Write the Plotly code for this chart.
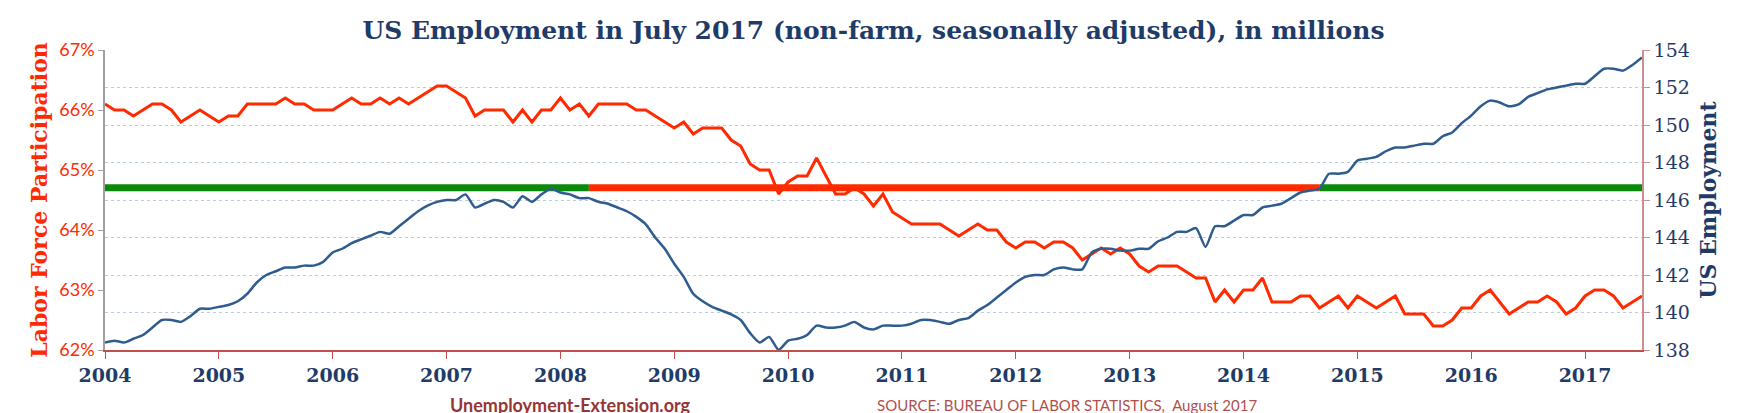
import plotly.graph_objects as go

years = list(range(2004, 2018))
lfpr = [
    66.1, 66.0, 66.0, 65.9, 66.0, 66.1, 66.1, 66.0, 65.8, 65.9, 66.0, 65.9,
    65.8, 65.9, 65.9, 66.1, 66.1, 66.1, 66.1, 66.2, 66.1, 66.1, 66.0, 66.0,
    66.0, 66.1, 66.2, 66.1, 66.1, 66.2, 66.1, 66.2, 66.1, 66.2, 66.3, 66.4,
    66.4, 66.3, 66.2, 65.9, 66.0, 66.0, 66.0, 65.8, 66.0, 65.8, 66.0, 66.0,
    66.2, 66.0, 66.1, 65.9, 66.1, 66.1, 66.1, 66.1, 66.0, 66.0, 65.9, 65.8,
    65.7, 65.8, 65.6, 65.7, 65.7, 65.7, 65.5, 65.4, 65.1, 65.0, 65.0, 64.6,
    64.8, 64.9, 64.9, 65.2, 64.9, 64.6, 64.6, 64.7, 64.6, 64.4, 64.6, 64.3,
    64.2, 64.1, 64.1, 64.1, 64.1, 64.0, 63.9, 64.0, 64.1, 64.0, 64.0, 63.8,
    63.7, 63.8, 63.8, 63.7, 63.8, 63.8, 63.7, 63.5, 63.6, 63.7, 63.6, 63.7,
    63.6, 63.4, 63.3, 63.4, 63.4, 63.4, 63.3, 63.2, 63.2, 62.8, 63.0, 62.8,
    63.0, 63.0, 63.2, 62.8, 62.8, 62.8, 62.9, 62.9, 62.7, 62.8, 62.9, 62.7,
    62.9, 62.8, 62.7, 62.8, 62.9, 62.6, 62.6, 62.6, 62.4, 62.4, 62.5, 62.7,
    62.7, 62.9, 63.0, 62.8, 62.6, 62.7, 62.8, 62.8, 62.9, 62.8, 62.6, 62.7,
    62.9, 63.0, 63.0, 62.9, 62.7, 62.8, 62.9,
]
employment = [
    138.4, 138.5, 138.4, 138.6, 138.8, 139.2, 139.6, 139.6, 139.5, 139.8, 140.2, 140.2,
    140.3, 140.4, 140.6, 141.0, 141.6, 142.0, 142.2, 142.4, 142.4, 142.5, 142.5, 142.7,
    143.2, 143.4, 143.7, 143.9, 144.1, 144.3, 144.2, 144.6, 145.0, 145.4, 145.7, 145.9,
    146.0, 146.0, 146.3, 145.6, 145.8, 146.0, 145.9, 145.6, 146.2, 145.9, 146.3, 146.6,
    146.4, 146.3, 146.1, 146.1, 145.9, 145.8, 145.6, 145.4, 145.1, 144.7, 144.0, 143.4,
    142.6, 141.9, 141.0, 140.6, 140.3, 140.1, 139.9, 139.6, 138.9, 138.4, 138.7, 138.0,
    138.5, 138.6, 138.8, 139.3, 139.2, 139.2, 139.3, 139.5, 139.2, 139.1, 139.3, 139.3,
    139.3, 139.4, 139.6, 139.6, 139.5, 139.4, 139.6, 139.7, 140.1, 140.4, 140.8, 141.2,
    141.6, 141.9, 142.0, 142.0, 142.3, 142.4, 142.3, 142.3, 143.2, 143.4, 143.4, 143.3,
    143.3, 143.4, 143.4, 143.8, 144.0, 144.3, 144.3, 144.5, 143.5, 144.6, 144.6, 144.9,
    145.2, 145.2, 145.6, 145.7, 145.8, 146.1, 146.4, 146.5, 146.6, 147.4, 147.4, 147.5,
    148.1, 148.2, 148.3, 148.6, 148.8, 148.8, 148.9, 149.0, 149.0, 149.4, 149.6, 150.1,
    150.5, 151.0, 151.3, 151.2, 151.0, 151.1, 151.5, 151.7, 151.9, 152.0, 152.1, 152.2,
    152.2, 152.6, 153.0, 153.0, 152.9, 153.2, 153.6,
]
ref_level = 146.65
ref_segments = [(2004.0, 2008.25, "#0a8a0a"), (2008.25, 2014.67, "#ff2a00"), (2014.67, 2017.5, "#0a8a0a")]
left_ticks = [62, 63, 64, 65, 66, 67]
right_ticks = list(range(138, 155, 2))

x = [2004 + i / 12 for i in range(len(lfpr))]

NAVY = "#1f3b68"
RED = "#ff2a00"
L, R, T, B = 97, 120, 42, 71
pw = 1754 - L - R
ph = 413 - T - B

fig = go.Figure()
for x0, x1, c in ref_segments:
    fig.add_trace(go.Scatter(x=[x0, x1], y=[ref_level, ref_level], yaxis="y2", mode="lines",
                             line=dict(color=c, width=7), showlegend=False, hoverinfo="skip"))
fig.add_trace(go.Scatter(x=x, y=employment, yaxis="y2", mode="lines",
                         line=dict(color="#2e5c8e", width=2.5, shape="spline", smoothing=0.6),
                         showlegend=False))
fig.add_trace(go.Scatter(x=x, y=lfpr, mode="lines", line=dict(color=RED, width=3),
                         showlegend=False))

fig.update_layout(
    width=1754, height=413, plot_bgcolor="white", paper_bgcolor="white",
    margin=dict(l=L, r=R, t=T, b=B),
    title=dict(text="<b>US Employment in July 2017 (non-farm, seasonally adjusted), in millions</b>",
               x=0.5, xref="paper", y=0.945, yanchor="middle",
               font=dict(family="DejaVu Serif", size=25, color=NAVY)),
    xaxis=dict(range=[2004, 2017.5], tickvals=years, ticktext=[f"<b>{y}</b>" for y in years],
               showgrid=False, showline=True, linecolor="#c0504d", linewidth=1.5,
               ticks="outside", ticklen=7, tickcolor="#c0504d",
               tickfont=dict(family="DejaVu Serif", size=19, color=NAVY)),
    yaxis=dict(range=[62, 67], tickvals=left_ticks, ticktext=[f"{v}%" for v in left_ticks],
               showgrid=False, showline=True, linecolor="#a0a0a0", linewidth=1.5,
               ticks="outside", ticklen=5, tickcolor="#a0a0a0", zeroline=False,
               tickfont=dict(family="Lato", size=18, color=RED),
               title=dict(text="<b>Labor Force Participation</b>", standoff=6,
                          font=dict(family="DejaVu Serif", size=22, color=RED))),
    yaxis2=dict(range=[138, 154], tickvals=right_ticks, overlaying="y", side="right",
                showgrid=True, gridcolor="#b8cce4", griddash="dot", gridwidth=1.2,
                showline=True, linecolor="#c89090", linewidth=1.5, zeroline=False,
                ticks="outside", ticklen=6, tickcolor="#c89090",
                tickfont=dict(family="DejaVu Serif", size=19, color=NAVY),
                title=dict(text="<b>US Employment</b>", standoff=12,
                           font=dict(family="DejaVu Serif", size=22, color=NAVY))),
    annotations=[
        dict(text="<b>Unemployment-Extension.org</b>", xref="paper", yref="paper",
             x=(440 - L) / pw, y=-(397 - 342) / ph, yanchor="middle",
             showarrow=False, font=dict(family="Lato", size=18, color="#943634")),
        dict(text="SOURCE: BUREAU OF LABOR STATISTICS,  August 2017", xref="paper", yref="paper",
             x=(1059 - L) / pw, y=-(397 - 342) / ph, yanchor="middle",
             showarrow=False, font=dict(family="Lato", size=15, color="#b0504d")),
    ],
)

fig.write_html("out.html")
